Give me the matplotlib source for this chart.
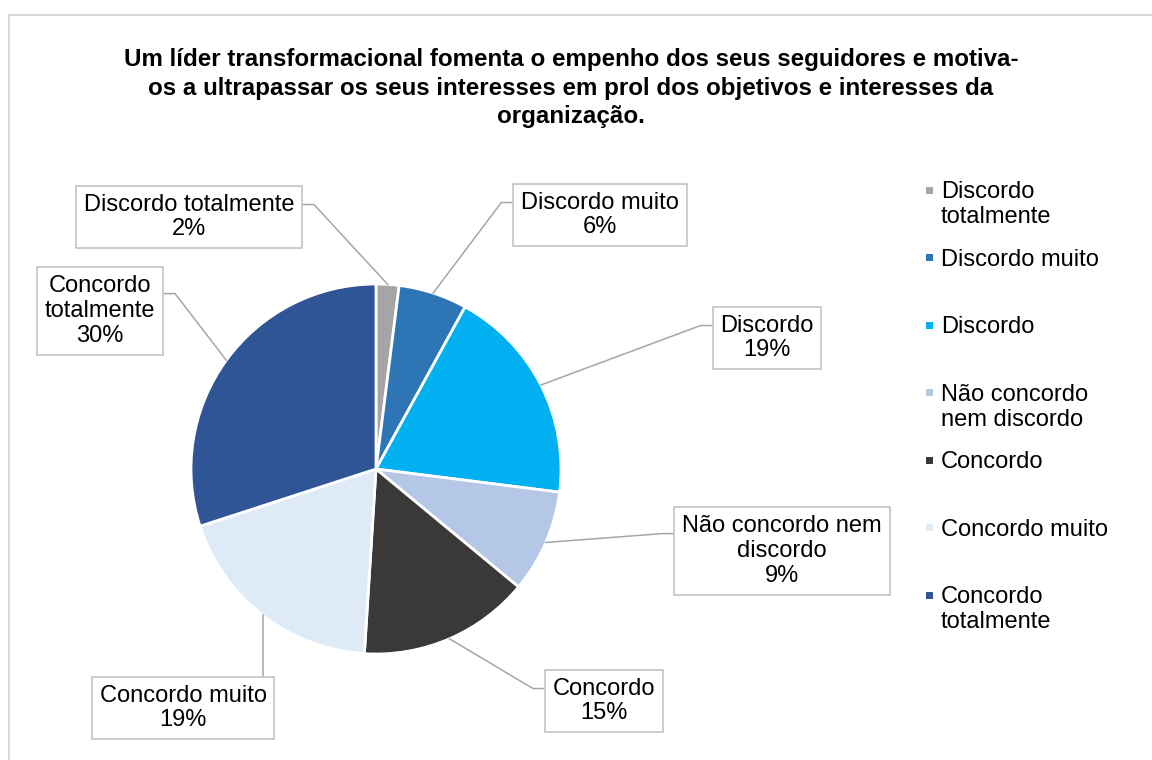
import matplotlib
matplotlib.use("Agg")
import matplotlib.pyplot as plt
import numpy as np
from matplotlib.lines import Line2D
from matplotlib.patches import Rectangle

plt.rcParams['font.family'] = ['Liberation Sans', 'DejaVu Sans']

# data
categories = ["Discordo totalmente", "Discordo muito", "Discordo",
              "Não concordo nem discordo", "Concordo", "Concordo muito",
              "Concordo totalmente"]
values = [2, 6, 19, 9, 15, 19, 30]
legend_labels = ["Discordo\ntotalmente", "Discordo muito", "Discordo",
                 "Não concordo\nnem discordo", "Concordo", "Concordo muito",
                 "Concordo\ntotalmente"]
box_labels = ["Discordo totalmente", "Discordo muito", "Discordo",
              "Não concordo nem\ndiscordo", "Concordo", "Concordo muito",
              "Concordo\ntotalmente"]
colors = ["#A5A5A5", "#2E75B6", "#00B0F0", "#B4C7E7", "#3B3838", "#DEEBF7",
          "#2F5597"]
title = ("Um líder transformacional fomenta o empenho dos seus seguidores e motiva-\n"
         "os a ultrapassar os seus interesses em prol dos objetivos e interesses da\n"
         "organização.")

W, H = 1152, 760
# layout (pixels, origin top-left)
pie_cx, pie_cy, pie_r = 376, 469, 185
box_pos = [(189, 217), (600, 215), (767, 338), (782, 551), (604, 701),
           (183, 708), (100, 311)]
box_side = ["right", "left", "left", "left", "left", "top", "right"]
leg_x, leg_y0, leg_step = 929, 190, 67.5


def fx(x):
    return x / W


def fy(y):
    return 1 - y / H


fig = plt.figure(figsize=(W / 100, H / 100), dpi=100)
fig.patch.set_facecolor("white")

# outer chart frame
fig.add_artist(Line2D([fx(9), fx(9)], [0, fy(15)], color="#D9D9D9", lw=1.5))
fig.add_artist(Line2D([fx(9), 1], [fy(15), fy(15)], color="#D9D9D9", lw=1.5))

fig.text(fx(571), fy(88), title, ha="center", va="center", fontsize=17.4,
         fontweight="bold", linespacing=1.29)

ax = fig.add_axes([fx(pie_cx - pie_r), fy(pie_cy + pie_r),
                   2 * pie_r / W, 2 * pie_r / H])
wedges, _ = ax.pie(values, colors=colors, startangle=90, counterclock=False,
                   radius=1, wedgeprops=dict(edgecolor="white", linewidth=2))
ax.set_xlim(-1, 1)
ax.set_ylim(-1, 1)
ax.axis("off")

texts = []
for name, v, (bx, by) in zip(box_labels, values, box_pos):
    t = fig.text(fx(bx), fy(by), f"{name}\n{v}%", ha="center", va="center",
                 fontsize=17, linespacing=1.16, multialignment="center",
                 bbox=dict(boxstyle="square,pad=0.33", fc="white",
                           ec="#BFBFBF", lw=1.1))
    texts.append(t)

fig.canvas.draw()
renderer = fig.canvas.get_renderer()
inv = fig.transFigure.inverted()
for w, t, side in zip(wedges, texts, box_side):
    ang = np.deg2rad((w.theta1 + w.theta2) / 2)
    ax_pt = ax.transData.transform((np.cos(ang), np.sin(ang)))
    bb = t.get_bbox_patch().get_window_extent(renderer)
    ya = bb.y1 - 0.3 * bb.height
    if side == "right":
        pts = [(bb.x1, ya), (bb.x1 + 12, ya), tuple(ax_pt)]
    elif side == "left":
        pts = [(bb.x0, ya), (bb.x0 - 12, ya), tuple(ax_pt)]
    else:
        pts = [(ax_pt[0], bb.y1), tuple(ax_pt)]
    pts = inv.transform(pts)
    fig.add_artist(Line2D(pts[:, 0], pts[:, 1], color="#A6A6A6", lw=1.1,
                          zorder=0.5))

# legend
for i, (lab, c) in enumerate(zip(legend_labels, colors)):
    y = leg_y0 + i * leg_step
    fig.add_artist(Rectangle((fx(leg_x - 3.5), fy(y + 3.5)), 7 / W, 7 / H,
                             transform=fig.transFigure, fc=c, ec="none"))
    fig.text(fx(941), fy(y - 9), lab, ha="left", va="top", fontsize=17,
             linespacing=1.2)

fig.savefig("out.png", dpi=100)
